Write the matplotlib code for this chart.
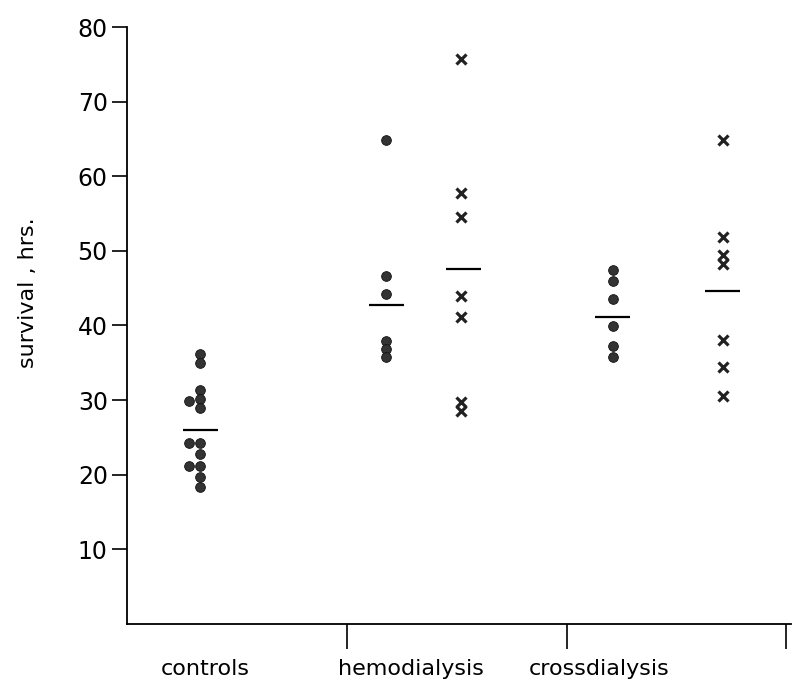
import numpy as np
import matplotlib
matplotlib.use('Agg')
import matplotlib.pyplot as plt

# valores (horas de supervivencia)
controls = [36.2, 35.0, 31.3, 30.1, 28.9, 22.8, 19.7, 18.4, 24.2, 21.1]
controls_side = [29.9, 24.2, 21.1]  # puntos desplazados a la izquierda
hemo_dots = [64.8, 46.6, 44.2, 37.9, 36.9, 35.8]
hemo_x = [75.7, 57.7, 54.5, 44.0, 41.1, 29.8, 28.5]
cross_dots = [47.4, 45.9, 43.6, 39.9, 37.3, 35.8]
cross_x = [64.8, 51.9, 49.5, 48.2, 38.1, 34.4, 30.5]

# lineas de media
means = [26.0, 42.8, 47.6, 41.1, 44.6]

categories = ['controls', 'hemodialysis', 'crossdialysis']
yticks = [10, 20, 30, 40, 50, 60, 70, 80]

fig = plt.figure(figsize=(7.95, 6.94), dpi=100)
ax = fig.add_axes([0.160, 0.101, 0.8345, 0.860])

dot_style = dict(marker='o', ls='none', ms=7, color='#333333', mec='#111111', mew=0.6)
x_style = dict(marker='x', ls='none', ms=6.5, color='#222222', mew=2.3)

ax.plot(np.full(len(controls), 0.33), controls, **dot_style)
ax.plot(np.full(len(controls_side), 0.28), controls_side, **dot_style)
ax.plot(np.full(len(hemo_dots), 1.18), hemo_dots, **dot_style)
ax.plot(np.full(len(hemo_x), 1.52), hemo_x, **x_style)
ax.plot(np.full(len(cross_dots), 2.21), cross_dots, **dot_style)
ax.plot(np.full(len(cross_x), 2.71), cross_x, **x_style)

# medias
mean_pos = [0.335, 1.18, 1.53, 2.21, 2.71]
for xp, m in zip(mean_pos, means):
    ax.hlines(m, xp - 0.08, xp + 0.08, color='black', lw=1.6)

ax.set_xlim(0, 3.02)
ax.set_ylim(0, 80)
ax.set_yticks(yticks)
ax.set_xticks([1, 2, 3])
ax.set_xticklabels([])
ax.tick_params(axis='y', direction='out', length=11, width=1.2, labelsize=17, pad=3)
ax.tick_params(axis='x', direction='out', length=18, width=1.2)

for s in ['top', 'right']:
    ax.spines[s].set_visible(False)
for s in ['left', 'bottom']:
    ax.spines[s].set_linewidth(1.3)

label_pos = [0.355, 1.29, 2.15]
for xp, lab in zip(label_pos, categories):
    ax.text(xp, -0.058, lab, transform=ax.get_xaxis_transform(), ha='center', va='top', fontsize=16)

ax.set_ylabel('survival , hrs.', fontsize=16)
ax.yaxis.set_label_coords(-0.135, 0.555)

fig.savefig('out.png', dpi=100)
